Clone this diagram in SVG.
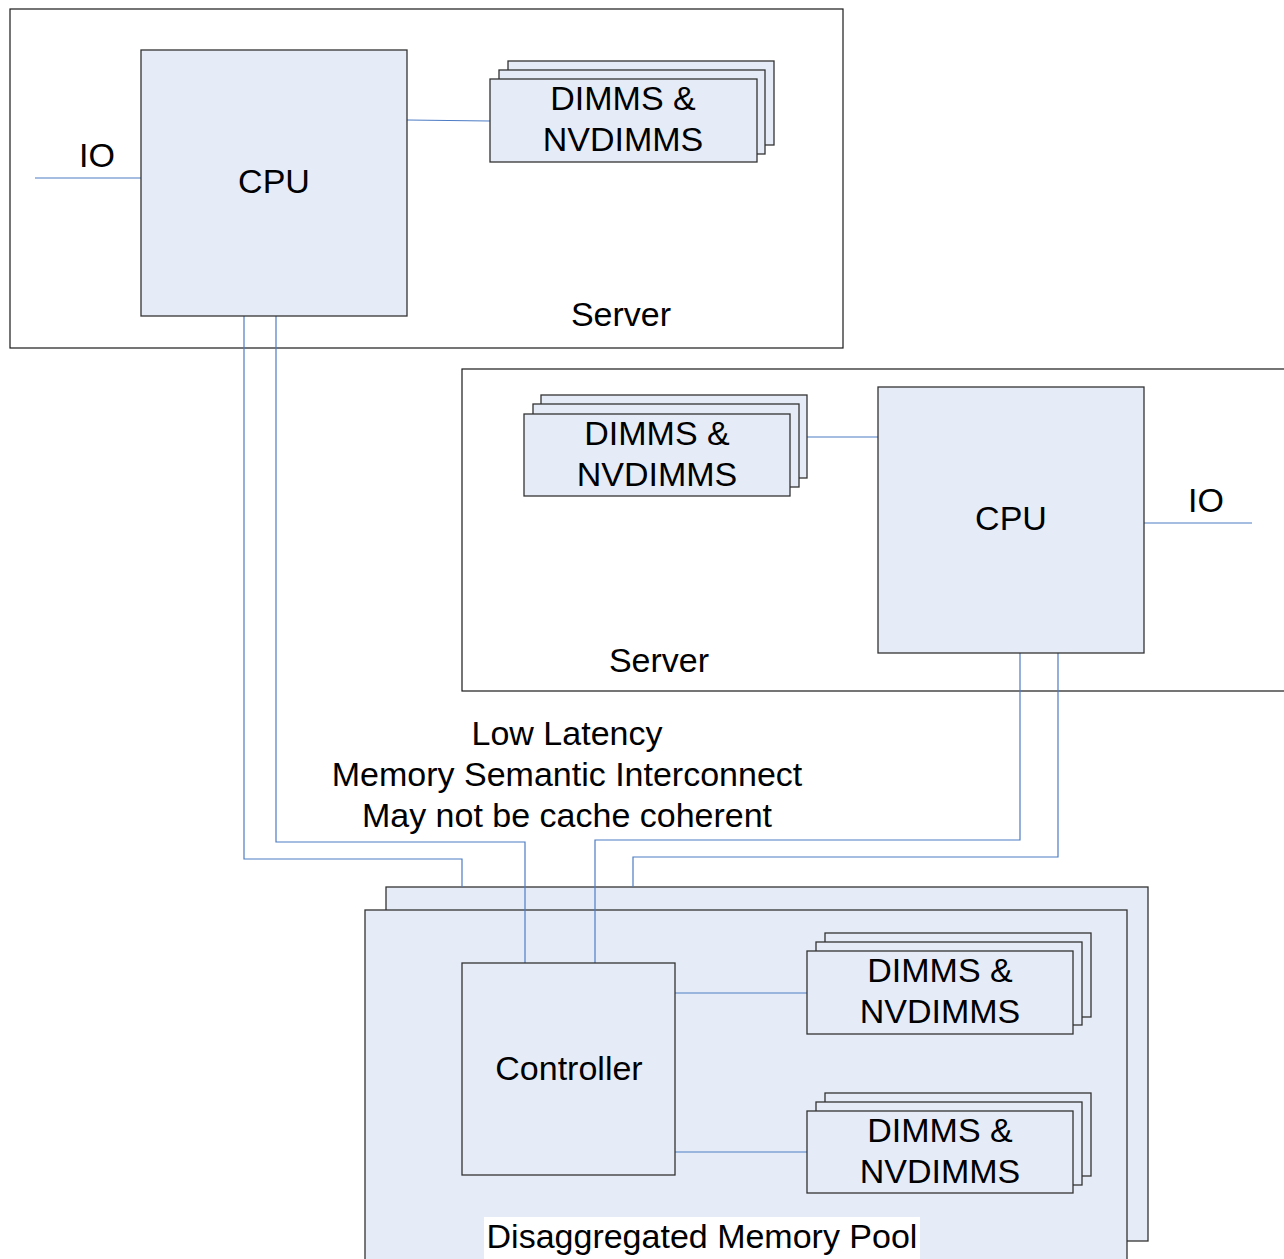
<svg xmlns="http://www.w3.org/2000/svg" width="1284" height="1259" viewBox="0 0 1284 1259">
  <style>
    .frame { fill: #ffffff; stroke: #1a1a1a; stroke-width: 1.2; }
    .box { fill: #e6ecf7; stroke: #333333; stroke-width: 1.3; }
    .link { fill: none; stroke: #4d7cc4; stroke-width: 1.2; }
    .label { font-family: "Liberation Sans", Arial, sans-serif; font-size: 34px; fill: #000000; text-anchor: middle; }
  </style>
  <rect x="0" y="0" width="1284" height="1259" fill="#ffffff"/>

  <!-- Server 1 -->
  <g id="server1">
    <rect class="frame" x="10" y="9" width="833" height="339"/>
    <text class="label" x="621" y="326">Server</text>
  </g>
  <!-- Server 2 -->
  <g id="server2">
    <rect class="frame" x="462" y="369" width="830" height="322"/>
    <text class="label" x="659" y="672">Server</text>
  </g>

  <!-- Memory pool (stacked) -->
  <g id="memory-pool">
    <rect class="box" x="386" y="887" width="762" height="354"/>
    <rect class="box" x="365" y="910" width="762" height="360"/>
    <rect x="484" y="1217" width="436" height="42" fill="#ffffff"/>
    <text class="label" x="702" y="1248">Disaggregated Memory Pool</text>
  </g>

  <!-- Connectors -->
  <g id="connectors">
    <line class="link" x1="35" y1="178" x2="141" y2="178"/>
    <line class="link" x1="407" y1="120" x2="490" y2="121"/>
    <line class="link" x1="807" y1="437" x2="878" y2="437"/>
    <line class="link" x1="1144" y1="523" x2="1252" y2="523"/>
    <polyline class="link" points="244,316 244,859 462,859 462,887"/>
    <polyline class="link" points="276,316 276,842 525,842 525,963"/>
    <polyline class="link" points="1020,653 1020,840 595,840 595,963"/>
    <polyline class="link" points="1058,653 1058,857 633,857 633,887"/>
    <line class="link" x1="675" y1="993" x2="807" y2="993"/>
    <line class="link" x1="675" y1="1152" x2="807" y2="1152"/>
  </g>

  <!-- CPU 1 -->
  <g id="cpu1">
    <rect class="box" x="141" y="50" width="266" height="266"/>
    <text class="label" x="274" y="193">CPU</text>
  </g>
  <g id="io1">
    <text class="label" x="97" y="167">IO</text>
  </g>

  <!-- DIMM stack in server 1 -->
  <g id="dimms1">
    <rect class="box" x="508" y="61" width="266" height="84"/>
    <rect class="box" x="499" y="70" width="266" height="84"/>
    <rect class="box" x="490" y="79" width="267" height="83"/>
    <text class="label" x="623" y="110">DIMMS &amp;</text>
    <text class="label" x="623" y="151">NVDIMMS</text>
  </g>

  <!-- CPU 2 -->
  <g id="cpu2">
    <rect class="box" x="878" y="387" width="266" height="266"/>
    <text class="label" x="1011" y="530">CPU</text>
  </g>
  <g id="io2">
    <text class="label" x="1206" y="512">IO</text>
  </g>

  <!-- DIMM stack in server 2 -->
  <g id="dimms2">
    <rect class="box" x="541" y="395" width="266" height="83"/>
    <rect class="box" x="533" y="404" width="266" height="83"/>
    <rect class="box" x="524" y="414" width="266" height="82"/>
    <text class="label" x="657" y="445">DIMMS &amp;</text>
    <text class="label" x="657" y="486">NVDIMMS</text>
  </g>

  <!-- Interconnect caption -->
  <g id="interconnect-label">
    <text class="label" x="567" y="745">Low Latency</text>
    <text class="label" x="567" y="786">Memory Semantic Interconnect</text>
    <text class="label" x="567" y="827">May not be cache coherent</text>
  </g>

  <!-- Controller -->
  <g id="controller">
    <rect class="box" x="462" y="963" width="213" height="212"/>
    <text class="label" x="569" y="1080">Controller</text>
  </g>

  <!-- DIMM stacks in the pool -->
  <g id="dimms-pool-a">
    <rect class="box" x="825" y="933" width="266" height="84"/>
    <rect class="box" x="816" y="942" width="266" height="83"/>
    <rect class="box" x="807" y="951" width="266" height="83"/>
    <text class="label" x="940" y="982">DIMMS &amp;</text>
    <text class="label" x="940" y="1023">NVDIMMS</text>
  </g>
  <g id="dimms-pool-b">
    <rect class="box" x="825" y="1093" width="266" height="83"/>
    <rect class="box" x="816" y="1102" width="266" height="83"/>
    <rect class="box" x="807" y="1111" width="266" height="82"/>
    <text class="label" x="940" y="1142">DIMMS &amp;</text>
    <text class="label" x="940" y="1183">NVDIMMS</text>
  </g>
</svg>
